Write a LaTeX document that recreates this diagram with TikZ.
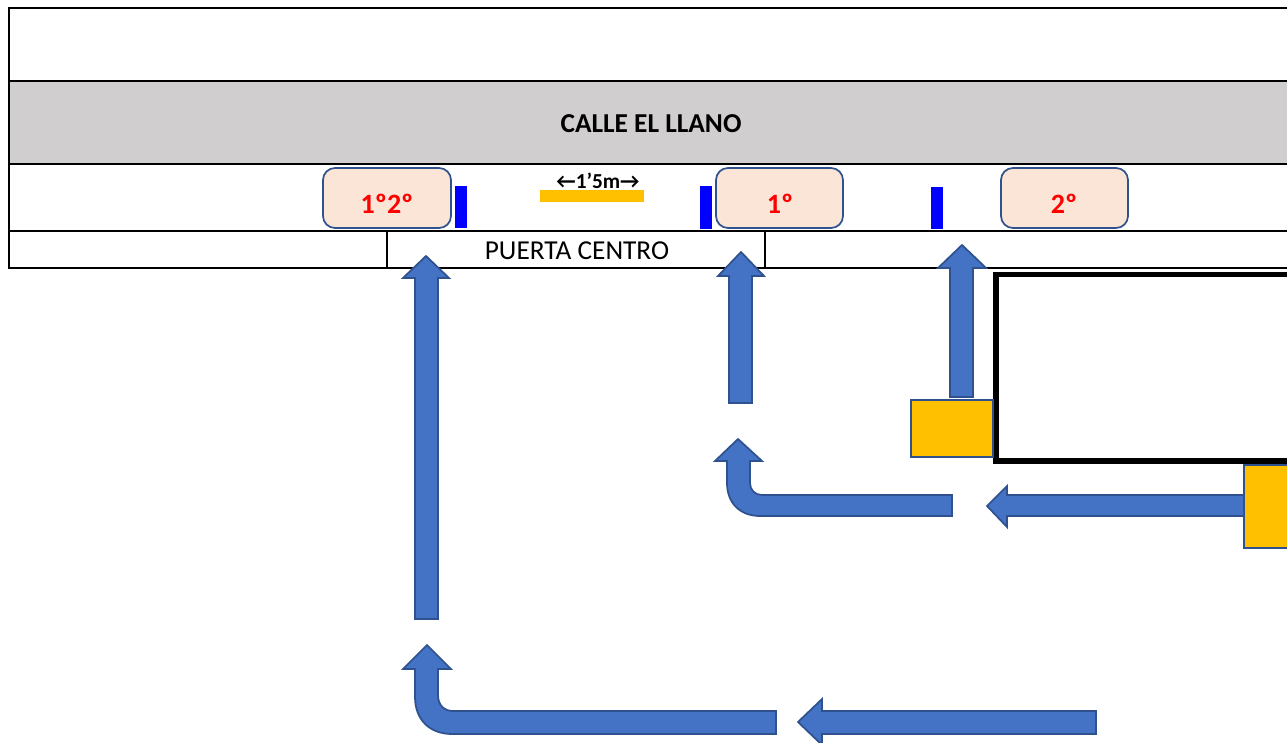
\documentclass[tikz,border=0pt]{standalone}
\usepackage{fontspec}
\setmainfont{Carlito}
\usepackage{xcolor}
\definecolor{calle}{HTML}{D0CECE}
\definecolor{box}{HTML}{FBE5D6}
\definecolor{edge}{HTML}{2F528F}
\definecolor{flow}{HTML}{4472C4}
\definecolor{amber}{HTML}{FFC000}
\definecolor{bar}{HTML}{0000FF}
\tikzset{
  grid/.style={draw=black, line width=1.2pt},
  flecha/.style={draw=edge, fill=flow, line width=1.3pt, line join=miter},
  post/.style={draw=edge, fill=amber, line width=1.3pt},
  mark box/.style={draw=edge, fill=box, line width=1.3pt, rounded corners=9pt},
  tag/.style={text=red, font=\fontsize{21}{21}\selectfont\bfseries},
  tope/.style={fill=bar},
}
\begin{document}
\begin{tikzpicture}[x=0.75pt,y=-0.75pt]
  \clip (0,0) rectangle (1287,742);
  \fill[white] (0,0) rectangle (1287,742);

  % street table
  \fill[calle] (9,81) rectangle (1290,164);
  \draw[grid] (1290,8)--(9,8)--(9,268)--(1290,268);
  \draw[grid] (9,81)--(1290,81);
  \draw[grid] (9,164)--(1290,164);
  \draw[grid] (9,231)--(1290,231);
  \draw[grid] (387,231)--(387,268);
  \draw[grid] (765,231)--(765,268);
  \node[font=\fontsize{20.5}{20.5}\selectfont\bfseries] (calle) at (651,124) {CALLE EL LLANO};
  \node[font=\fontsize{20.5}{20.5}\selectfont] (puerta) at (577,251) {PUERTA CENTRO};

  % boxes
  \draw[mark box] (323,168) rectangle (451,228);
  \draw[mark box] (716,168) rectangle (843,228);
  \draw[mark box] (1001,168) rectangle (1128,228);
  \node[tag] (m12) at (387,204) {1º2º};
  \node[tag] (m1) at (780,204) {1º};
  \node[tag] (m2) at (1064,204) {2º};

  % bars
  \fill[tope] (455,186) rectangle (467,228);
  \fill[tope] (700,186) rectangle (712,229);
  \fill[tope] (931,187) rectangle (943,229);
  \fill[amber] (540,190) rectangle (644,202);
  \node[font=\fontsize{16}{16}\selectfont\bfseries] (medida) at (598,181) {←1’5m→};

  % building and yellow boxes
  \draw[draw=black, line width=4.2pt] (1300,274.5)--(996,274.5)--(996,461)--(1300,461);
  \draw[post] (911,400) rectangle (993,457);
  \draw[post] (1244,465) rectangle (1300,548);

  % straight arrows
  \draw[flecha] (415,619)--(415,278)--(403,278)--(426,256)--(449,278)--(438,278)--(438,619)--cycle;
  \draw[flecha] (729,403)--(729,276)--(718,276)--(741,252)--(764,276)--(752,276)--(752,403)--cycle;
  \draw[flecha] (950,397)--(950,268)--(938,268)--(962,245)--(986,268)--(973,268)--(973,397)--cycle;
  \draw[flecha] (1244,495)--(1007,495)--(1007,486)--(987,506)--(1007,527)--(1007,516)--(1244,516)--cycle;
  \draw[flecha] (1096,711)--(822,711)--(822,699)--(798,722)--(822,745)--(822,734)--(1096,734)--cycle;

  % bent arrows
  \draw[flecha] (952,495)--(762,495) .. controls (755,495) and (750,490) .. (750,483)--(750,461)--(762,461)--(738,439)--(715,461)--(727,461)--(727,483) .. controls (727,503) and (740,516) .. (760,516)--(952,516)--cycle;
  \draw[flecha] (776,711)--(453,711) .. controls (444,711) and (438,705) .. (438,695)--(438,669)--(451,669)--(427,645)--(403,669)--(415,669)--(415,697) .. controls (415,720) and (430,734) .. (452,734)--(776,734)--cycle;
\end{tikzpicture}
\end{document}
